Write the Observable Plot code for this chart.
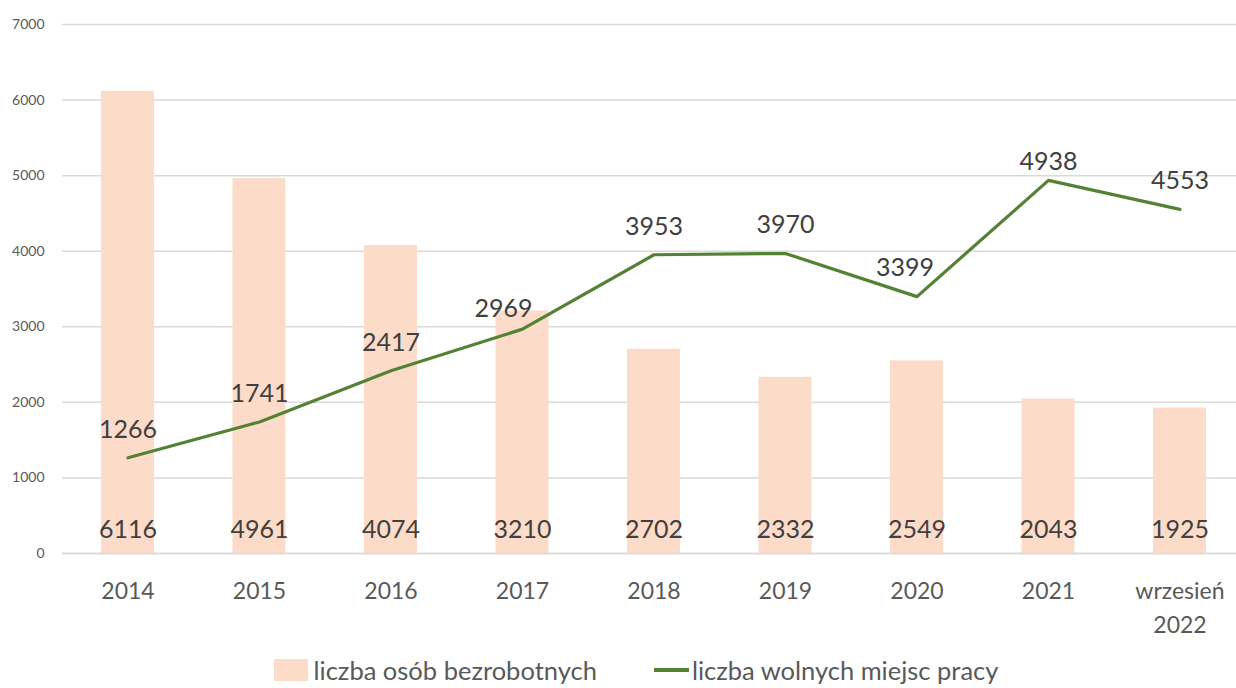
<!DOCTYPE html>
<html>
<head>
<meta charset="utf-8">
<script src="https://cdn.jsdelivr.net/npm/d3@7"></script>
<script src="https://cdn.jsdelivr.net/npm/@observablehq/plot@0.6"></script>
<style>
  html, body { margin: 0; padding: 0; background: #fff; }
  #chart { width: 1236px; }
  .legend { display: flex; justify-content: center; align-items: center; gap: 57px; height: 40px;
    font-family: Lato, "Open Sans", sans-serif; font-size: 25.5px; color: #595959; margin-left: 36px; }
  .legend .item { display: flex; align-items: center; }
  .sw-bar { width: 34px; height: 22px; background: #FCDCC8; margin-right: 6px; }
  .sw-line { width: 35px; height: 4px; background: #548235; margin-right: 3px; }
</style>
</head>
<body>
<div id="chart"></div>
<div class="legend">
  <div class="item"><span class="sw-bar"></span><span id="lg1"></span></div>
  <div class="item"><span class="sw-line"></span><span id="lg2"></span></div>
</div>
<script>
const categories = ["2014", "2015", "2016", "2017", "2018", "2019", "2020", "2021", "wrzesień\n2022"];
const unemployed = [6116, 4961, 4074, 3210, 2702, 2332, 2549, 2043, 1925];
const vacancies = [1266, 1741, 2417, 2969, 3953, 3970, 3399, 4938, 4553];
const yTicks = [0, 1000, 2000, 3000, 4000, 5000, 6000, 7000];
const seriesNames = ["liczba osób bezrobotnych", "liczba wolnych miejsc pracy"];

document.getElementById("lg1").textContent = seriesNames[0];
document.getElementById("lg2").textContent = seriesNames[1];

const data = categories.map((c, i) => ({cat: c, u: unemployed[i], v: vacancies[i]}));

const font = "Lato, 'Open Sans', sans-serif";
const chart = Plot.plot({
  width: 1236,
  height: 650,
  marginLeft: 62,
  marginRight: 0,
  marginTop: 24,
  marginBottom: 97,
  style: {fontFamily: font, background: "#fff"},
  x: {domain: categories, paddingInner: 0.597, paddingOuter: 0.2625, align: 0.565, round: false, label: null},
  y: {domain: [0, 7000], label: null},
  marks: [
    Plot.gridY(yTicks, {stroke: "#d9d9d9", strokeOpacity: 1, strokeWidth: 1.5}),
    Plot.barY(data, {x: "cat", y: "u", fill: "#FCDCC8"}),
    Plot.ruleY([0], {stroke: "#d9d9d9", strokeWidth: 1.5}),
    Plot.axisY({ticks: yTicks, tickFormat: d => String(d), tickSize: 0, tickPadding: 18, fontSize: 14, fill: "#595959", label: null}),
    Plot.axisX({tickSize: 0, tickPadding: 22, fontSize: 23, fill: "#595959", lineHeight: 1.45, label: null}),
    Plot.text(data, {x: "cat", y: 0, text: d => String(d.u), dy: -24, fontSize: 25, fill: "#404040"}),
    Plot.line(data, {x: "cat", y: "v", stroke: "#548235", strokeWidth: 3.2, strokeLinejoin: "round"}),
    Plot.text(data, {filter: d => !["2017", "2020", "2021"].includes(d.cat), x: "cat", y: "v", text: d => String(d.v), dy: -28, fontSize: 25, fill: "#404040"}),
    Plot.text(data, {filter: d => d.cat === "2017", x: "cat", y: "v", text: d => String(d.v), dx: -19, dy: -20, fontSize: 25, fill: "#404040"}),
    Plot.text(data, {filter: d => d.cat === "2020", x: "cat", y: "v", text: d => String(d.v), dx: -12, dy: -29, fontSize: 25, fill: "#404040"}),
    Plot.text(data, {filter: d => d.cat === "2021", x: "cat", y: "v", text: d => String(d.v), dy: -18, fontSize: 25, fill: "#404040"})
  ]
});
document.getElementById("chart").appendChild(chart);
</script>
</body>
</html>
